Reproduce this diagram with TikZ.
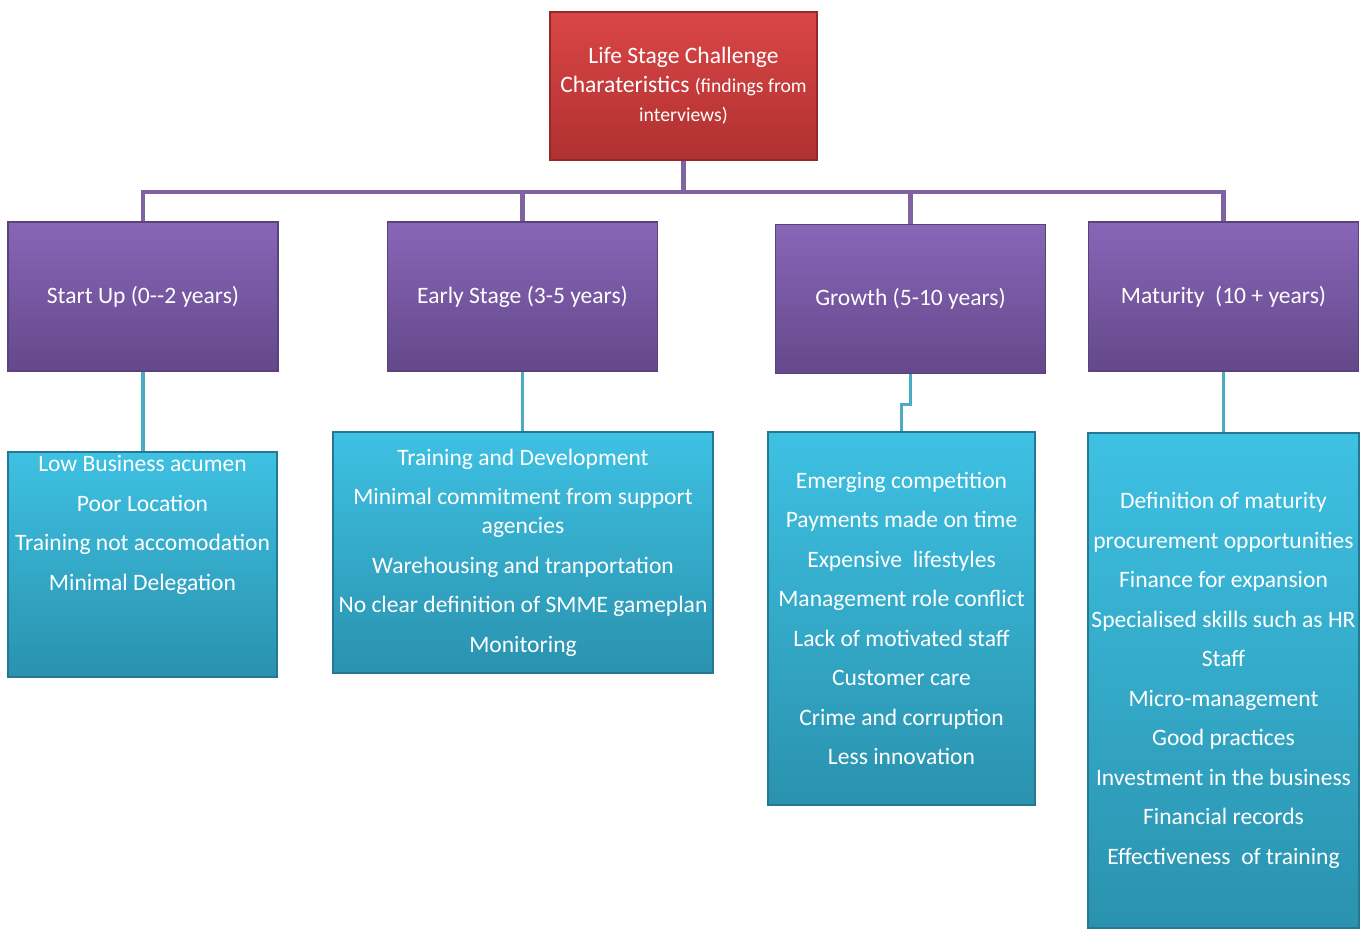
\documentclass[tikz,border=0pt]{standalone}
\usepackage{fontspec}
\setmainfont{Carlito}
\usetikzlibrary{positioning}

\definecolor{redtop}{RGB}{218,70,70}
\definecolor{redbot}{RGB}{176,48,48}
\definecolor{rededge}{RGB}{150,40,40}
\definecolor{purtop}{RGB}{136,102,184}
\definecolor{purbot}{RGB}{100,72,138}
\definecolor{puredge}{RGB}{90,66,122}
\definecolor{purline}{RGB}{128,100,162}
\definecolor{cyntop}{RGB}{62,193,227}
\definecolor{cynbot}{RGB}{42,146,174}
\definecolor{cynedge}{RGB}{36,120,145}
\definecolor{cynline}{RGB}{75,170,196}

\begin{document}
\begin{tikzpicture}
    [
        x=0.02cm, y=-0.02cm,
        font=\fontsize{13.4}{16.5}\selectfont,
        box/.style={rectangle, draw, line width=0.8pt, text=white, align=center, inner sep=2pt},
        rootbox/.style={box, top color=redtop, bottom color=redbot, draw=rededge,
            minimum width=5.34cm, minimum height=2.96cm},
        stagebox/.style={box, top color=purtop, bottom color=purbot, draw=puredge,
            minimum width=5.4cm, minimum height=2.98cm},
        itembox/.style={box, top color=cyntop, bottom color=cynbot, draw=cynedge},
        itemtext/.style={text=white, align=center, inner sep=0pt},
        purlink/.style={draw=purline, line width=2.4pt},
        cynlink/.style={draw=cynline, line width=1.9pt},
    ]

    \useasboundingbox (0,0) rectangle (1369,930);

    % root
    \node (root) at (683.5,86) [rootbox]
        {Life Stage Challenge\\Charateristics {\fontsize{11.2}{16.5}\selectfont(findings from}\\
         {\fontsize{11.2}{16.5}\selectfont interviews)}};

    % stages
    \node (s1) at (143,296.5)   [stagebox] {Start Up (0-{}-2 years)};
    \node (s2) at (522.5,296.5) [stagebox] {Early Stage (3-5 years)};
    \node (s3) at (910.5,299)   [stagebox] {Growth (5-10 years)};
    \node (s4) at (1223.5,296.5) [stagebox] {Maturity\ \ (10 + years)};

    \coordinate (bus) at (683.5,192);

    \path[purlink]
    (root.south) edge (bus)
    (s1.north) edge [to path={|- (\tikztotarget)}] (bus)
    (s2.north) edge [to path={|- (\tikztotarget)}] (bus)
    (s3.north) edge [to path={|- (\tikztotarget)}] (bus)
    (s4.north) edge [to path={|- (\tikztotarget)}] (bus);

    % challenges
    \node (c1) at (142.5,564.5) [itembox, minimum width=5.38cm, minimum height=4.5cm] {};
    \node (t1) at (142.5,525) [itemtext]
        {Low Business acumen\\[6pt]Poor Location\\[6pt]Training not accomodation\\[6pt]Minimal Delegation};

    \node (c2) at (523,552.5) [itembox, minimum width=7.6cm, minimum height=4.82cm]
        {Training and Development\\[6pt]Minimal commitment from support\\agencies\\[6pt]
         Warehousing and tranportation\\[6pt]No clear definition of SMME gameplan\\[6pt]Monitoring};

    \node (c3) at (901.5,618.5) [itembox, minimum width=5.34cm, minimum height=7.46cm]
        {Emerging competition\\[6pt]Payments made on time\\[6pt]Expensive\ \ lifestyles\\[6pt]
         Management role conflict\\[6pt]Lack of motivated staff\\[6pt]Customer care\\[6pt]
         Crime and corruption\\[6pt]Less innovation};

    \node (c4) at (1223.5,680.5) [itembox, minimum width=5.38cm, minimum height=9.9cm]
        {Definition of maturity\\[6pt]procurement opportunities\\[6pt]Finance for expansion\\[6pt]
         Specialised skills such as HR\\[6pt]Staff\\[6pt]Micro-management\\[6pt]Good practices\\[6pt]
         Investment in the business\\[6pt]Financial records\\[6pt]Effectiveness\ \ of training};

    \path[cynlink]
    (s1.south) edge (s1.south |- c1.north)
    (s2.south) edge (s2.south |- c2.north)
    (s4.south) edge (s4.south |- c4.north);
    \draw[cynlink] (s3.south) -- ++(0,30) -| (c3.north);

\end{tikzpicture}
\end{document}
